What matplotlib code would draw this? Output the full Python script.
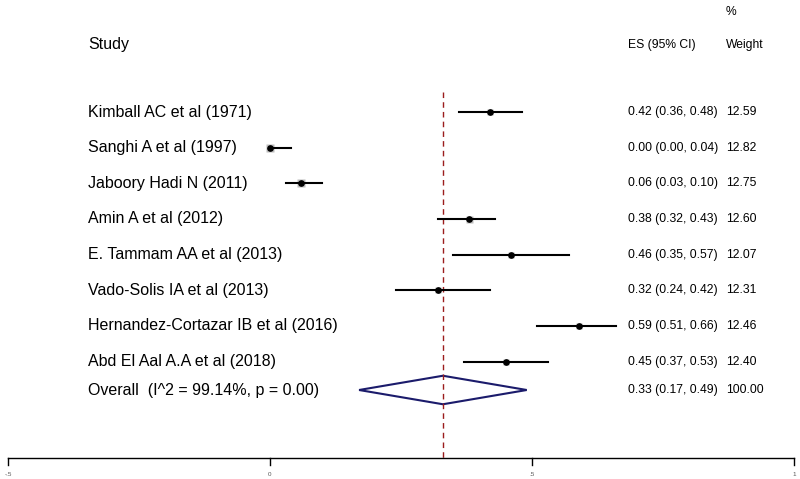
import matplotlib
matplotlib.use("Agg")
import matplotlib.pyplot as plt
from matplotlib.patches import Polygon

plt.rcParams['font.family'] = ['Liberation Sans', 'DejaVu Sans']

studies = ["Kimball AC et al (1971)", "Sanghi A et al (1997)", "Jaboory Hadi N (2011)",
           "Amin A et al (2012)", "E. Tammam AA et al (2013)", "Vado-Solis IA et al (2013)",
           "Hernandez-Cortazar IB et al (2016)", "Abd El Aal A.A et al (2018)"]
es = [0.42, 0.00, 0.06, 0.38, 0.46, 0.32, 0.59, 0.45]
lo = [0.36, 0.00, 0.03, 0.32, 0.35, 0.24, 0.51, 0.37]
hi = [0.48, 0.04, 0.10, 0.43, 0.57, 0.42, 0.66, 0.53]
weight = [12.59, 12.82, 12.75, 12.60, 12.07, 12.31, 12.46, 12.40]
overall = (0.33, 0.17, 0.49)
overall_label = "Overall  (I^2 = 99.14%, p = 0.00)"
xticks = [-0.5, 0, 0.5, 1]
xtick_labels = ["-.5", "0", ".5", "1"]

fig = plt.figure(figsize=(8, 4.79), dpi=100)
ax = fig.add_axes([0, 0, 1, 1])
# pixel x = 270 + 524*v ; row i at pixel y = 112 + 35.65*i
ax.set_xlim(-270 / 524, 530 / 524)
ax.set_ylim((479 - 112) / 35.65, -112 / 35.65)
ax.axis("off")

rows = list(range(len(studies)))
y_over = (390 - 112) / 35.65
y_axis = (458 - 112) / 35.65
y_head = (45 - 112) / 35.65
big, small = 11.5, 8.7
x_name, x_es, x_w = -0.347, 0.683, 0.870

# pooled estimate line
ax.plot([overall[0], overall[0]], [(92 - 112) / 35.65, y_axis], ls=(0, (4, 3)),
        color="#9b1c1c", lw=1)

for i in rows:
    ax.plot([lo[i], hi[i]], [i, i], color="black", lw=1.5, zorder=3)
    ax.plot(es[i], i, marker="s", ms=weight[i] * 0.4, color="#bdbdbd", mec="none", zorder=2)
    ax.plot(es[i], i, marker="o", ms=3.8, color="black", zorder=4)
    ax.text(x_name, i, studies[i], fontsize=big, va="center", ha="left")
    ax.text(x_es, i, "%.2f (%.2f, %.2f)" % (es[i], lo[i], hi[i]), fontsize=small,
            va="center", ha="left")
    ax.text(x_w, i, "%.2f" % weight[i], fontsize=small, va="center", ha="left")

d = Polygon([[overall[1], y_over], [overall[0], y_over - 0.4], [overall[2], y_over],
             [overall[0], y_over + 0.4]], closed=True, fill=False, edgecolor="#1b1b6b", lw=1.5)
ax.add_patch(d)
ax.text(x_name, y_over, overall_label, fontsize=big, va="center", ha="left")
ax.text(x_es, y_over, "%.2f (%.2f, %.2f)" % overall, fontsize=small, va="center", ha="left")
ax.text(x_w, y_over, "100.00", fontsize=small, va="center", ha="left")

# headers
ax.text(x_name, y_head, "Study", fontsize=big, va="center", ha="left")
ax.text(x_es, y_head, "ES (95% CI)", fontsize=small, va="center", ha="left")
ax.text(x_w, y_head, "Weight", fontsize=small, va="center", ha="left")
ax.text(x_w, (12 - 112) / 35.65, "%", fontsize=small, va="center", ha="left")

# bottom axis
ax.plot([xticks[0], xticks[-1]], [y_axis, y_axis], color="black", lw=1)
for t, lab in zip(xticks, xtick_labels):
    ax.plot([t, t], [y_axis, y_axis + 0.2], color="black", lw=1)
    ax.text(t, y_axis + 0.45, lab, fontsize=4.5, color="#555555", ha="center", va="center")

fig.savefig("out.png", dpi=100)
